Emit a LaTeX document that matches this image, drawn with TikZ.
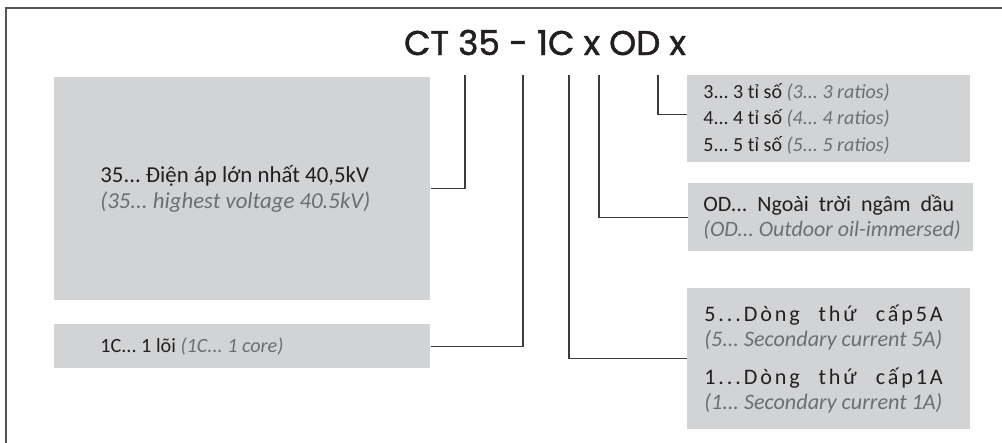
\documentclass[tikz,border=0pt]{standalone}
\usepackage{fontspec}
\setmainfont{Carlito}
\newfontfamily\titlefont[FakeBold=1.4]{Poppins}
\newfontfamily\spacedfont[LetterSpace=13, WordSpace=2.4]{Carlito}
\usetikzlibrary{positioning}
\definecolor{boxgray}{RGB}{209,211,212}
\definecolor{textdark}{RGB}{35,31,32}
\definecolor{textgray}{RGB}{109,110,113}
\definecolor{framegray}{RGB}{85,85,85}
\definecolor{linegray}{RGB}{60,60,60}
\tikzstyle{codebox} = [rectangle, fill=boxgray, anchor=north west, inner sep=0pt]
\tikzstyle{codetext} = [anchor=west, align=left, inner sep=0pt, text=textdark, font=\fontsize{12}{14.5}\selectfont]
\tikzstyle{link} = [draw=linegray, line width=0.6pt]
\newcommand{\eng}[1]{\textcolor{textgray}{\textit{#1}}}
\frenchspacing

\begin{document}
\begin{tikzpicture}[x=0.02cm, y=-0.02cm]
\useasboundingbox (0,0) rectangle (1002,443);

% frame
\draw [framegray, line width=1.2pt] (6,450) |- (1010,8);

% title
\node (title) [text=textdark, font=\titlefont\fontsize{19.5}{22}\selectfont, anchor=base] at (545,55) {CT 35 - 1C x OD x};

% boxes
\node (volt) [codebox, minimum width=7.52cm, minimum height=4.46cm] at (54,77) {};
\node (core) [codebox, minimum width=7.52cm, minimum height=0.88cm] at (54,324) {};
\node (ratio) [codebox, minimum width=5.66cm, minimum height=1.74cm] at (687,75) {};
\node (oil) [codebox, minimum width=5.7cm, minimum height=1.36cm] at (688,183) {};
\node (current) [codebox, minimum width=5.66cm, minimum height=2.82cm] at (687,288) {};

% texts
\node (volttext) [codetext, font=\fontsize{13}{14.8}\selectfont] at ([xshift=0.92cm]volt.west) {35... Điện áp lớn nhất 40,5kV\\ \eng{(35... highest voltage 40.5kV)}};
\node (coretext) [codetext, font=\fontsize{11.5}{14}\selectfont] at ([xshift=0.92cm]core.west) {1C... 1 lõi \eng{(1C... 1 core)}};
\node (ratiotext) [codetext, font=\fontsize{11.4}{15.3}\selectfont] at ([xshift=0.32cm]ratio.west) {3... 3 tỉ số \eng{(3... 3 ratios)}\\ 4... 4 tỉ số \eng{(4... 4 ratios)}\\ 5... 5 tỉ số \eng{(5... 5 ratios)}};
\node (oiltext) [codetext, font=\fontsize{12.5}{14}\selectfont] at ([xshift=0.3cm]oil.west) {OD...\ \ Ngoài\ \ trời\ \ ngâm\ \ dầu\\ \eng{(OD... Outdoor oil-immersed)}};
\node (currenttext) [codetext, font=\fontsize{12.6}{14.3}\selectfont] at ([xshift=0.34cm]current.west) {{\spacedfont 5...Dòng thứ cấp5A}\\ \eng{(5... Secondary current 5A)}\\[7.5pt] {\spacedfont 1...Dòng thứ cấp1A}\\ \eng{(1... Secondary current 1A)}};

% connector tops
\coordinate (tvolt) at (465,75);
\coordinate (tcore) at (523,75);
\coordinate (tcurrent) at (569,75);
\coordinate (toil) at (599,75);
\coordinate (tratio) at (658,75);

\draw [link] (tvolt) |- (volt.east);
\draw [link] (tcore) |- (core.east);
\draw [link] (tcurrent) |- (current.west);
\draw [link] (toil) |- (oil.west);
\draw [link] (tratio) |- ([yshift=0.08cm]ratio.west);

\end{tikzpicture}
\end{document}
